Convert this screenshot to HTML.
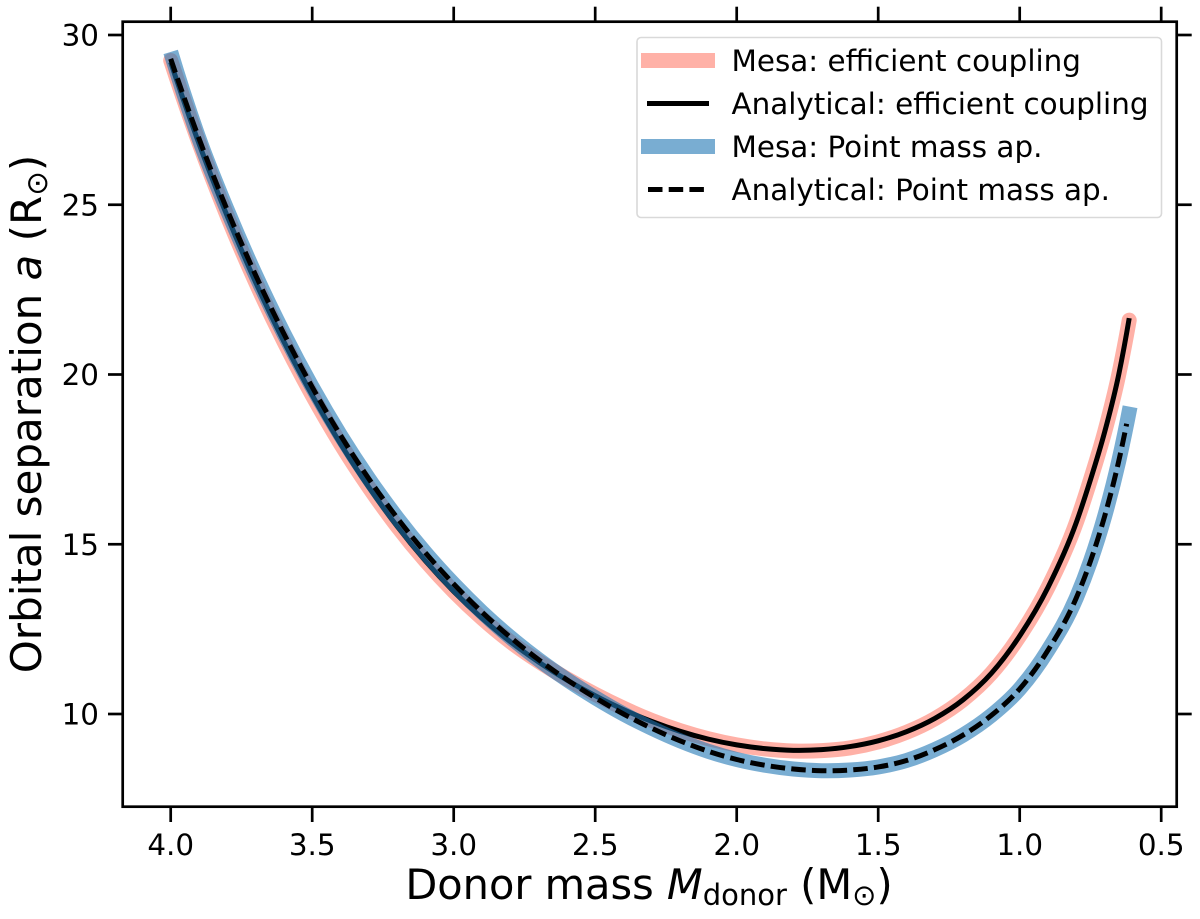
<!DOCTYPE html>
<html lang="en">
<head>
<meta charset="utf-8">
<title>Orbital separation vs donor mass</title>
<style>
html,body{margin:0;padding:0;background:#fff;}
svg{display:block;font-family:"DejaVu Sans","Liberation Sans",sans-serif;}
</style>
</head>
<body>
<svg id="chart" xmlns="http://www.w3.org/2000/svg" width="1200" height="919" viewBox="0 0 1200 919">
  <rect x="0" y="0" width="1200" height="919" fill="#fff"/>
  <g id="series" fill="none"></g>
  <rect x="122.7" y="21.7" width="1054" height="785" fill="none" stroke="#000" stroke-width="2.7"/>
  <g id="ticks"></g>
  <g>
    <rect x="637" y="37.5" width="524.5" height="180" rx="4" ry="4" fill="#fff" fill-opacity="0.85" stroke="#d9d9d9" stroke-width="1.6"/>
    <line x1="641" y1="60.5" x2="715" y2="60.5" stroke="#ff6350" stroke-opacity="0.5" stroke-width="15"/>
    <text x="731.5" y="71" font-size="29.4" fill="#000">Mesa: efficient coupling</text>
    <line x1="647" y1="103.5" x2="709" y2="103.5" stroke="#000" stroke-width="5"/>
    <text x="731.5" y="114" font-size="29.4" fill="#000">Analytical: efficient coupling</text>
    <line x1="641" y1="146.5" x2="715" y2="146.5" stroke="#1f77b4" stroke-opacity="0.6" stroke-width="15"/>
    <text x="731.5" y="157" font-size="29.4" fill="#000">Mesa: Point mass ap.</text>
    <line x1="648" y1="189.5" x2="708" y2="189.5" stroke="#000" stroke-width="5" stroke-dasharray="14.5 6.2"/>
    <text x="731.5" y="200" font-size="29.4" fill="#000">Analytical: Point mass ap.</text>
  </g>
  <text x="649" y="899" font-size="41.5" text-anchor="middle" fill="#000">Donor mass <tspan font-style="italic">M</tspan><tspan font-size="29" dy="6">donor</tspan><tspan dy="-6"> (M</tspan><tspan font-size="29" dy="6">⊙</tspan><tspan dy="-6">)</tspan></text>
  <text transform="translate(41,414) rotate(-90)" x="0" y="0" font-size="42" text-anchor="middle" fill="#000">Orbital separation <tspan font-style="italic">a</tspan> (R<tspan font-size="29.4" dy="6">⊙</tspan><tspan dy="-6">)</tspan></text>
</svg>
<script>
// Chart data
const efficientMass = [4.0,3.9,3.8,3.7,3.6,3.5,3.4,3.3,3.2,3.1,3.0,2.9,2.8,2.7,2.6,2.5,2.4,2.3,2.2,2.1,2.0,1.9,1.8,1.7,1.6,1.5,1.4,1.3,1.2,1.1,1.0,0.9,0.8,0.75,0.7,0.65,0.613];
const mesaPointMassMass = [4.0,3.9,3.8,3.7,3.6,3.5,3.4,3.3,3.2,3.1,3.0,2.9,2.8,2.7,2.6,2.5,2.4,2.3,2.2,2.1,2.0,1.9,1.8,1.7,1.6,1.5,1.4,1.3,1.2,1.1,1.0,0.9,0.8,0.75,0.7,0.65,0.61];
const analyticalPointMassMass = [4.0,3.9,3.8,3.7,3.6,3.5,3.4,3.3,3.2,3.1,3.0,2.9,2.8,2.7,2.6,2.5,2.4,2.3,2.2,2.1,2.0,1.9,1.8,1.7,1.6,1.5,1.4,1.3,1.2,1.1,1.0,0.9,0.8,0.75,0.7,0.65,0.622];
const mesaEfficient = [29.25,26.82,24.66,22.72,20.97,19.39,17.96,16.68,15.53,14.51,13.61,12.82,12.13,11.55,11.04,10.58,10.17,9.81,9.51,9.27,9.09,8.97,8.91,8.92,9.0,9.18,9.46,9.86,10.42,11.2,12.3,13.73,15.64,16.9,18.3,20.0,21.6];
const analyticalEfficient = [29.2,26.8,24.66,22.72,20.97,19.39,17.96,16.68,15.53,14.51,13.61,12.82,12.13,11.53,11.0,10.54,10.13,9.78,9.49,9.26,9.09,8.98,8.93,8.95,9.04,9.21,9.48,9.87,10.42,11.2,12.3,13.73,15.64,16.9,18.3,20.0,21.66];
const mesaPointMass = [29.5,26.95,24.84,22.93,21.2,19.63,18.21,16.93,15.78,14.75,13.83,13.0,12.26,11.6,11.01,10.48,10.0,9.58,9.21,8.9,8.66,8.49,8.38,8.33,8.35,8.44,8.63,8.95,9.38,9.96,10.74,11.88,13.42,14.5,15.82,17.45,19.05];
const analyticalPointMass = [29.3,26.95,24.84,22.93,21.2,19.63,18.21,16.93,15.78,14.75,13.83,13.0,12.26,11.6,11.01,10.48,10.0,9.58,9.21,8.9,8.66,8.49,8.38,8.33,8.35,8.44,8.63,8.95,9.38,9.96,10.74,11.88,13.42,14.5,15.82,17.45,18.55];
const xTickValues = [4.0,3.5,3.0,2.5,2.0,1.5,1.0,0.5];
const xTickLabels = ["4.0","3.5","3.0","2.5","2.0","1.5","1.0","0.5"];
const yTickValues = [10,15,20,25,30];
const yTickLabels = ["10","15","20","25","30"];

const NS = 'http://www.w3.org/2000/svg';
function xScale(m){ return 170.7 + (4 - m) * 283; }
function yScale(a){ return 714 - (a - 10) * 33.95; }

// Smooth curve through the data points (non-uniform cubic Hermite in x).
function curvePath(masses, values){
  const x = masses.map(xScale), y = values.map(yScale), n = x.length;
  const h = [], s = [], t = [];
  for (let i = 0; i < n - 1; i++){
    h.push(x[i + 1] - x[i]);
    s.push((y[i + 1] - y[i]) / h[i]);
  }
  t.push(s[0] + (s[0] - s[1]) * h[0] / (h[0] + h[1]));
  for (let i = 1; i < n - 1; i++){
    t.push((s[i - 1] * h[i] + s[i] * h[i - 1]) / (h[i - 1] + h[i]));
  }
  t.push(s[n - 2] + (s[n - 2] - s[n - 3]) * h[n - 2] / (h[n - 2] + h[n - 3]));
  let d = 'M' + x[0].toFixed(2) + ' ' + y[0].toFixed(2);
  for (let i = 0; i < n - 1; i++){
    const c = h[i] / 3;
    d += 'C' + (x[i] + c).toFixed(2) + ' ' + (y[i] + t[i] * c).toFixed(2) + ' ' +
         (x[i + 1] - c).toFixed(2) + ' ' + (y[i + 1] - t[i + 1] * c).toFixed(2) + ' ' +
         x[i + 1].toFixed(2) + ' ' + y[i + 1].toFixed(2);
  }
  return d;
}

const seriesLayer = document.getElementById('series');
const tickLayer = document.getElementById('ticks');

const pinkLine = document.createElementNS(NS, 'path');


pinkLine.setAttribute('d', curvePath(efficientMass, mesaEfficient));
pinkLine.setAttribute('stroke', '#ff6350');
pinkLine.setAttribute('stroke-opacity', '0.5');
pinkLine.setAttribute('stroke-width', '15');
pinkLine.setAttribute('stroke-linecap', 'round');
seriesLayer.appendChild(pinkLine);

const blackLine = document.createElementNS(NS, 'path');


blackLine.setAttribute('d', curvePath(efficientMass, analyticalEfficient));
blackLine.setAttribute('stroke', '#000');
blackLine.setAttribute('stroke-width', '5');
seriesLayer.appendChild(blackLine);

const blueLine = document.createElementNS(NS, 'path');


blueLine.setAttribute('d', curvePath(mesaPointMassMass, mesaPointMass));
blueLine.setAttribute('stroke', '#1f77b4');
blueLine.setAttribute('stroke-opacity', '0.6');
blueLine.setAttribute('stroke-width', '15');
seriesLayer.appendChild(blueLine);

const dashedLine = document.createElementNS(NS, 'path');


dashedLine.setAttribute('d', curvePath(analyticalPointMassMass, analyticalPointMass));
dashedLine.setAttribute('stroke', '#000');
dashedLine.setAttribute('stroke-width', '5');
dashedLine.setAttribute('stroke-dasharray', '14.5 6.2');
seriesLayer.appendChild(dashedLine);

function makeTick(x1, y1, x2, y2){
  const t = document.createElementNS(NS, 'line');
  t.setAttribute('x1', x1);
  t.setAttribute('y1', y1);
  t.setAttribute('x2', x2);
  t.setAttribute('y2', y2);
  t.setAttribute('stroke', '#000');
  t.setAttribute('stroke-width', '2.7');
  return t;
}

xTickValues.forEach(function(v, i){
  const x = xScale(v);
  const bottomTick = makeTick(x, 806.7, x, 822);
  
  
  tickLayer.appendChild(bottomTick);
  const topTick = makeTick(x, 21.7, x, 6.7);
  
  
  tickLayer.appendChild(topTick);
  const label = document.createElementNS(NS, 'text');
  
  
  label.setAttribute('x', x);
  label.setAttribute('y', 855);
  label.setAttribute('font-size', '29.4');
  label.setAttribute('text-anchor', 'middle');
  label.textContent = xTickLabels[i];
  tickLayer.appendChild(label);
});

yTickValues.forEach(function(v, i){
  const y = yScale(v);
  const leftTick = makeTick(122.7, y, 108, y);
  
  
  tickLayer.appendChild(leftTick);
  const rightTick = makeTick(1176.7, y, 1191.7, y);
  
  
  tickLayer.appendChild(rightTick);
  const label = document.createElementNS(NS, 'text');
  
  
  label.setAttribute('x', 99);
  label.setAttribute('y', y + 10.7);
  label.setAttribute('font-size', '29.4');
  label.setAttribute('text-anchor', 'end');
  label.textContent = yTickLabels[i];
  tickLayer.appendChild(label);
});
</script>
</body>
</html>
